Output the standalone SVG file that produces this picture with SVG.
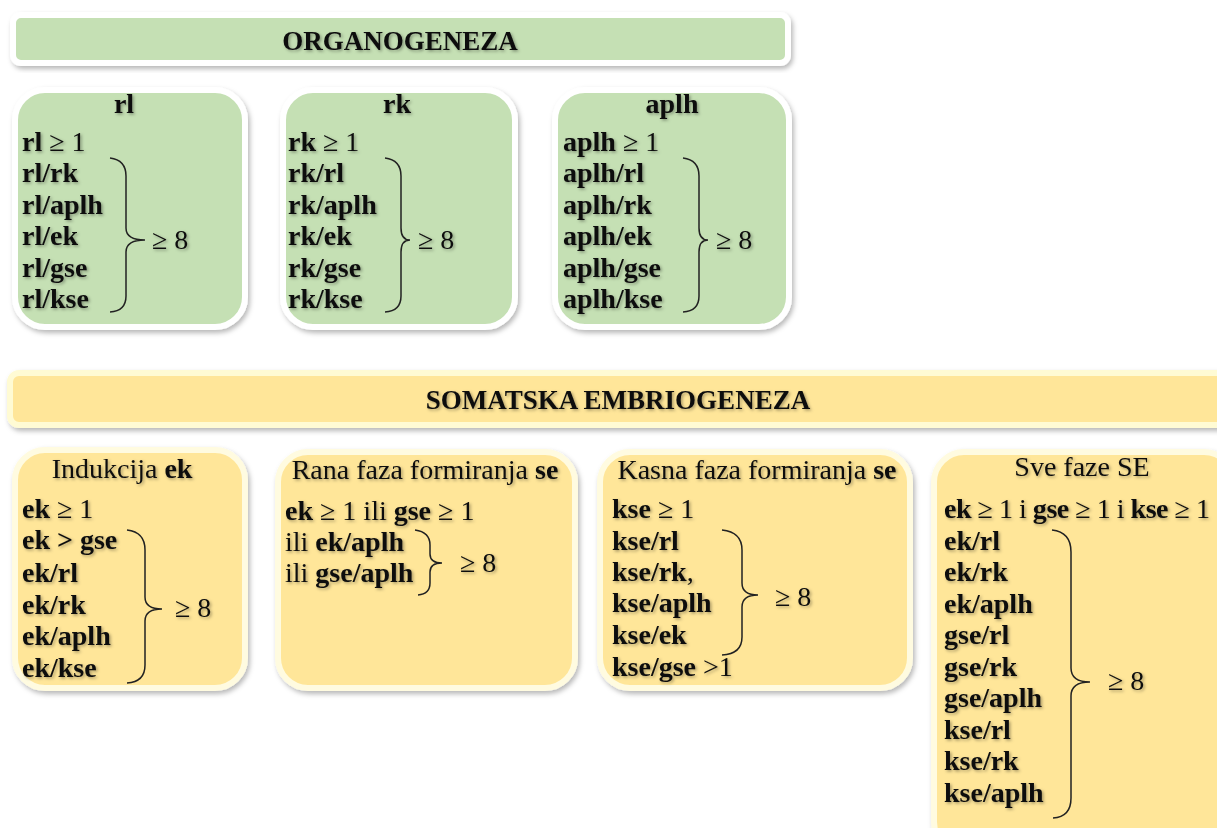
<svg xmlns="http://www.w3.org/2000/svg" width="1217" height="828" viewBox="0 0 1217 828">
<defs>
<filter id="sh" x="-10%" y="-10%" width="130%" height="130%"><feDropShadow dx="2" dy="3" stdDeviation="2.5" flood-color="#000" flood-opacity="0.28"/></filter>
<filter id="ts" x="-10%" y="-30%" width="130%" height="170%"><feDropShadow dx="1.5" dy="1.5" stdDeviation="1.4" flood-color="#000" flood-opacity="0.35"/></filter>
</defs>
<style>
text{font-family:"Liberation Serif","Times New Roman",serif;fill:#111;}
.t{font-size:28px;}
.b{font-weight:bold;}
.h{font-size:27px;font-weight:bold;text-anchor:middle;}
.ttl{text-anchor:middle;}
.g{fill:#c5e0b4;stroke:#ffffff;stroke-width:6;}
.y{fill:#ffe699;stroke:#fffbe0;stroke-width:6;}
.br{fill:none;stroke:#222;stroke-width:1.5;}
</style>
<rect width="1217" height="828" fill="#fff"/>

<g id="banner-organogeneza">
<rect x="13" y="15" width="775" height="48" rx="8" class="g" filter="url(#sh)"/>
<text class="h" x="400" y="50" filter="url(#ts)">ORGANOGENEZA</text>
</g>

<g id="box-rl">
<rect x="15" y="90" width="230" height="237" rx="30" class="g" filter="url(#sh)"/>
<g filter="url(#ts)" class="t">
<text class="b ttl" x="124" y="113">rl</text>
<text x="22" y="151"><tspan class="b">rl</tspan> ≥ 1</text>
<text class="b" x="22" y="182">rl/rk</text>
<text class="b" x="22" y="214">rl/aplh</text>
<text class="b" x="22" y="245">rl/ek</text>
<text class="b" x="22" y="277">rl/gse</text>
<text class="b" x="22" y="308">rl/kse</text>
<text x="152" y="249">≥ 8</text>
</g>
</g>

<g id="box-rk">
<rect x="283" y="90" width="232" height="237" rx="30" class="g" filter="url(#sh)"/>
<g filter="url(#ts)" class="t">
<text class="b ttl" x="397" y="113">rk</text>
<text x="288" y="151"><tspan class="b">rk</tspan> ≥ 1</text>
<text class="b" x="288" y="182">rk/rl</text>
<text class="b" x="288" y="214">rk/aplh</text>
<text class="b" x="288" y="245">rk/ek</text>
<text class="b" x="288" y="277">rk/gse</text>
<text class="b" x="288" y="308">rk/kse</text>
<text x="418" y="249">≥ 8</text>
</g>
</g>

<g id="box-aplh">
<rect x="555" y="90" width="234" height="237" rx="30" class="g" filter="url(#sh)"/>
<g filter="url(#ts)" class="t">
<text class="b ttl" x="672" y="113">aplh</text>
<text x="563" y="151"><tspan class="b">aplh</tspan> ≥ 1</text>
<text class="b" x="563" y="182">aplh/rl</text>
<text class="b" x="563" y="214">aplh/rk</text>
<text class="b" x="563" y="245">aplh/ek</text>
<text class="b" x="563" y="277">aplh/gse</text>
<text class="b" x="563" y="308">aplh/kse</text>
<text x="716" y="249">≥ 8</text>
</g>
</g>

<g id="banner-somatska">
<rect x="10" y="373" width="1230" height="52" rx="9" fill="#ffe699" stroke="#fffbd4" stroke-width="6" filter="url(#sh)"/>
<text class="h" x="618" y="409" filter="url(#ts)">SOMATSKA EMBRIOGENEZA</text>
</g>

<g id="box-indukcija">
<rect x="15" y="450" width="230" height="238" rx="30" class="y" filter="url(#sh)"/>
<g filter="url(#ts)" class="t">
<text class="ttl" x="122" y="478">Indukcija <tspan class="b">ek</tspan></text>
<text x="22" y="518"><tspan class="b">ek</tspan> ≥ 1</text>
<text class="b" x="22" y="549">ek &gt; gse</text>
<text class="b" x="22" y="582">ek/rl</text>
<text class="b" x="22" y="614">ek/rk</text>
<text class="b" x="22" y="645">ek/aplh</text>
<text class="b" x="22" y="677">ek/kse</text>
<text x="175" y="617">≥ 8</text>
</g>
</g>

<g id="box-rana">
<rect x="278" y="452" width="297" height="236" rx="30" class="y" filter="url(#sh)"/>
<g filter="url(#ts)" class="t">
<text class="ttl" x="425" y="479">Rana faza formiranja <tspan class="b">se</tspan></text>
<text x="285" y="520"><tspan class="b">ek</tspan> ≥ 1 ili <tspan class="b">gse</tspan> ≥  1</text>
<text x="285" y="551">ili <tspan class="b">ek/aplh</tspan></text>
<text x="285" y="582">ili <tspan class="b">gse/aplh</tspan></text>
<text x="460" y="572">≥ 8</text>
</g>
</g>

<g id="box-kasna">
<rect x="600" y="452" width="310" height="236" rx="30" class="y" filter="url(#sh)"/>
<g filter="url(#ts)" class="t">
<text class="ttl" x="757" y="479">Kasna faza formiranja <tspan class="b">se</tspan></text>
<text x="612" y="518"><tspan class="b">kse</tspan> ≥ 1</text>
<text class="b" x="612" y="550">kse/rl</text>
<text x="612" y="581"><tspan class="b">kse/rk</tspan>,</text>
<text class="b" x="612" y="612">kse/aplh</text>
<text class="b" x="612" y="644">kse/ek</text>
<text x="612" y="676"><tspan class="b">kse/gse</tspan> &gt;1</text>
<text x="775" y="606">≥ 8</text>
</g>
</g>

<g id="box-sve">
<rect x="934" y="452" width="300" height="400" rx="30" class="y" filter="url(#sh)"/>
<g filter="url(#ts)" class="t">
<text class="ttl" x="1082" y="476">Sve faze SE</text>
<text x="944" y="518" textLength="266" lengthAdjust="spacing"><tspan class="b">ek</tspan> ≥ 1 i <tspan class="b">gse</tspan> ≥ 1 i <tspan class="b">kse</tspan> ≥ 1</text>
<text class="b" x="944" y="550">ek/rl</text>
<text class="b" x="944" y="581">ek/rk</text>
<text class="b" x="944" y="613">ek/aplh</text>
<text class="b" x="944" y="644">gse/rl</text>
<text class="b" x="944" y="676">gse/rk</text>
<text class="b" x="944" y="707">gse/aplh</text>
<text class="b" x="944" y="739">kse/rl</text>
<text class="b" x="944" y="770">kse/rk</text>
<text class="b" x="944" y="802">kse/aplh</text>
<text x="1108" y="690">≥ 8</text>
</g>
</g>

<g id="connectors">
<path class="br" d="M110,158 Q126,160 126,176 L126,228 Q126,240 145,240 Q126,240 126,252 L126,296 Q126,311 110,312"/>
<path class="br" d="M385,158 Q401,160 401,176 L401,228 Q401,240 410,240 Q401,240 401,252 L401,296 Q401,311 385,312"/>
<path class="br" d="M683,158 Q699,160 699,176 L699,228 Q699,240 708,240 Q699,240 699,252 L699,296 Q699,311 683,312"/>
<path class="br" d="M127,530 Q145,532 145,550 L145,597 Q145,609 162,609 Q145,609 145,621 L145,665 Q145,682 127,683"/>
<path class="br" d="M415,530 Q430,532 430,545 L430,554 Q430,563 442,563 Q430,563 430,572 L430,583 Q430,594 418,595"/>
<path class="br" d="M722,530 Q742,532 742,550 L742,583 Q742,595 758,595 Q742,595 742,607 L742,637 Q742,654 722,655"/>
<path class="br" d="M1052,530 Q1071,532 1071,552 L1071,668 Q1071,682 1090,682 Q1071,682 1071,696 L1071,798 Q1071,817 1053,818"/>
</g>
</svg>
